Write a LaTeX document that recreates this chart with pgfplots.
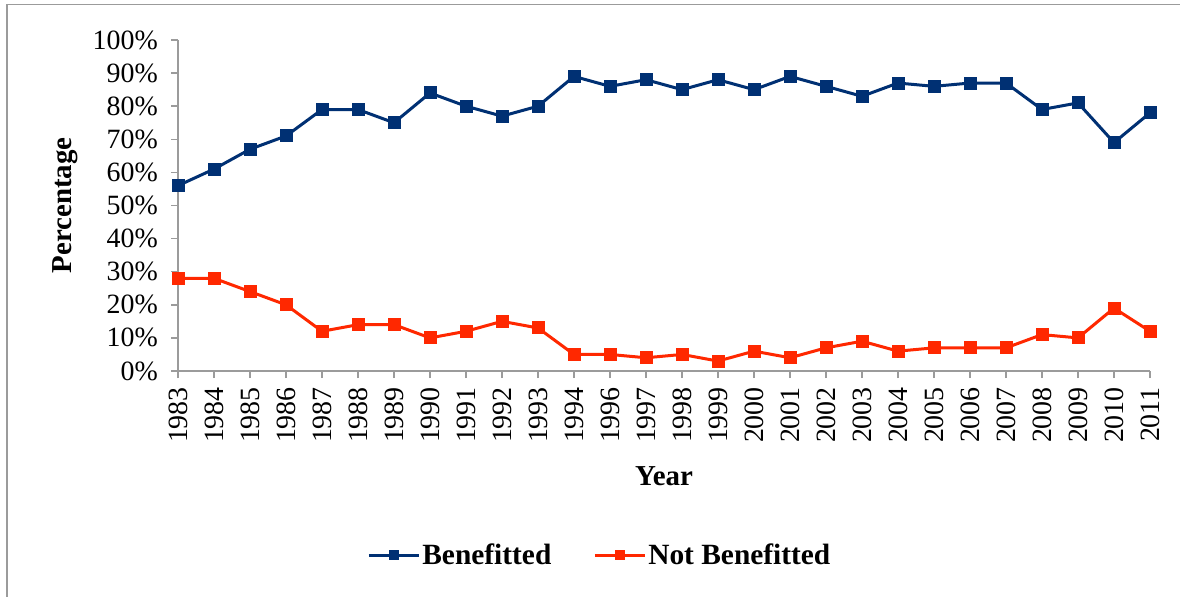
\documentclass[border=0pt]{standalone}
\usepackage{fontspec}
\setmainfont{Liberation Serif}
\usepackage{pgfplots}
\usepackage{pgfplotstable}
\pgfplotsset{compat=1.18}
\definecolor{navyb}{RGB}{0,48,115}
\definecolor{redn}{RGB}{255,40,0}
\definecolor{axgray}{RGB}{155,155,155}
\pgfplotstableread{
i year ben notben
0 1983 56 28
1 1984 61 28
2 1985 67 24
3 1986 71 20
4 1987 79 12
5 1988 79 14
6 1989 75 14
7 1990 84 10
8 1991 80 12
9 1992 77 15
10 1993 80 13
11 1994 89 5
12 1996 86 5
13 1997 88 4
14 1998 85 5
15 1999 88 3
16 2000 85 6
17 2001 89 4
18 2002 86 7
19 2003 83 9
20 2004 87 6
21 2005 86 7
22 2006 87 7
23 2007 87 7
24 2008 79 11
25 2009 81 10
26 2010 69 19
27 2011 78 12
}\datatable
\begin{document}
\begin{tikzpicture}[x=1bp,y=1bp]
\path[use as bounding box] (0,0) rectangle (1180,-597);
\draw[axgray, line width=1.5bp] (7,-597) -- (7,-4.5) -- (1180,-4.5);
\begin{axis}[
 at={(178bp,-371bp)}, anchor=south west,
 scale only axis, width=972bp, height=331bp,
 xmin=0, xmax=27, ymin=0, ymax=100,
 axis x line*=bottom, axis y line*=left,
 axis line style={axgray, line width=1.5bp, -},
 tick style={axgray, line width=1.5bp},
 tick align=outside, major tick length=7bp,
 xtick={0,1,...,27},
 xticklabels={1983,1984,1985,1986,1987,1988,1989,1990,1991,1992,1993,1994,1996,1997,1998,1999,2000,2001,2002,2003,2004,2005,2006,2007,2008,2009,2010,2011},
 ytick={0,10,...,100},
 yticklabels={0\%,10\%,20\%,30\%,40\%,50\%,60\%,70\%,80\%,90\%,100\%},
 /pgf/number format/assume math mode=true,
 ticklabel style={font=\fontsize{28}{33}\selectfont, black},
 xticklabel style={rotate=90, anchor=east, inner sep=9bp},
 yticklabel style={inner sep=13bp},
 xlabel={Year}, ylabel={Percentage},
 label style={font=\fontsize{29}{34}\selectfont\bfseries},
 xlabel style={at={(axis description cs:0.5,-0.317)}, anchor=center},
 ylabel style={at={(axis description cs:-0.116,0.5)}, anchor=center, rotate=0},
 legend style={at={(axis description cs:0.434,-0.556)}, anchor=center, draw=none,
   font=\fontsize{29.5}{34}\selectfont\bfseries, legend columns=2,
   /tikz/every even column/.append style={column sep=40bp}},
 legend image code/.code={\draw[mark repeat=2, mark phase=2, #1, mark size=3.5bp] plot coordinates {(0bp,0bp) (25bp,0bp) (50bp,0bp)};},
 clip=false,
]
\addplot[navyb, line width=3bp, mark=square*, mark size=5bp, mark options={solid}] table[x=i, y=ben] {\datatable};
\addlegendentry{Benefitted}
\addplot[redn, line width=3bp, mark=square*, mark size=5bp, mark options={solid}] table[x=i, y=notben] {\datatable};
\addlegendentry{Not Benefitted}
\end{axis}
\end{tikzpicture}
\end{document}
